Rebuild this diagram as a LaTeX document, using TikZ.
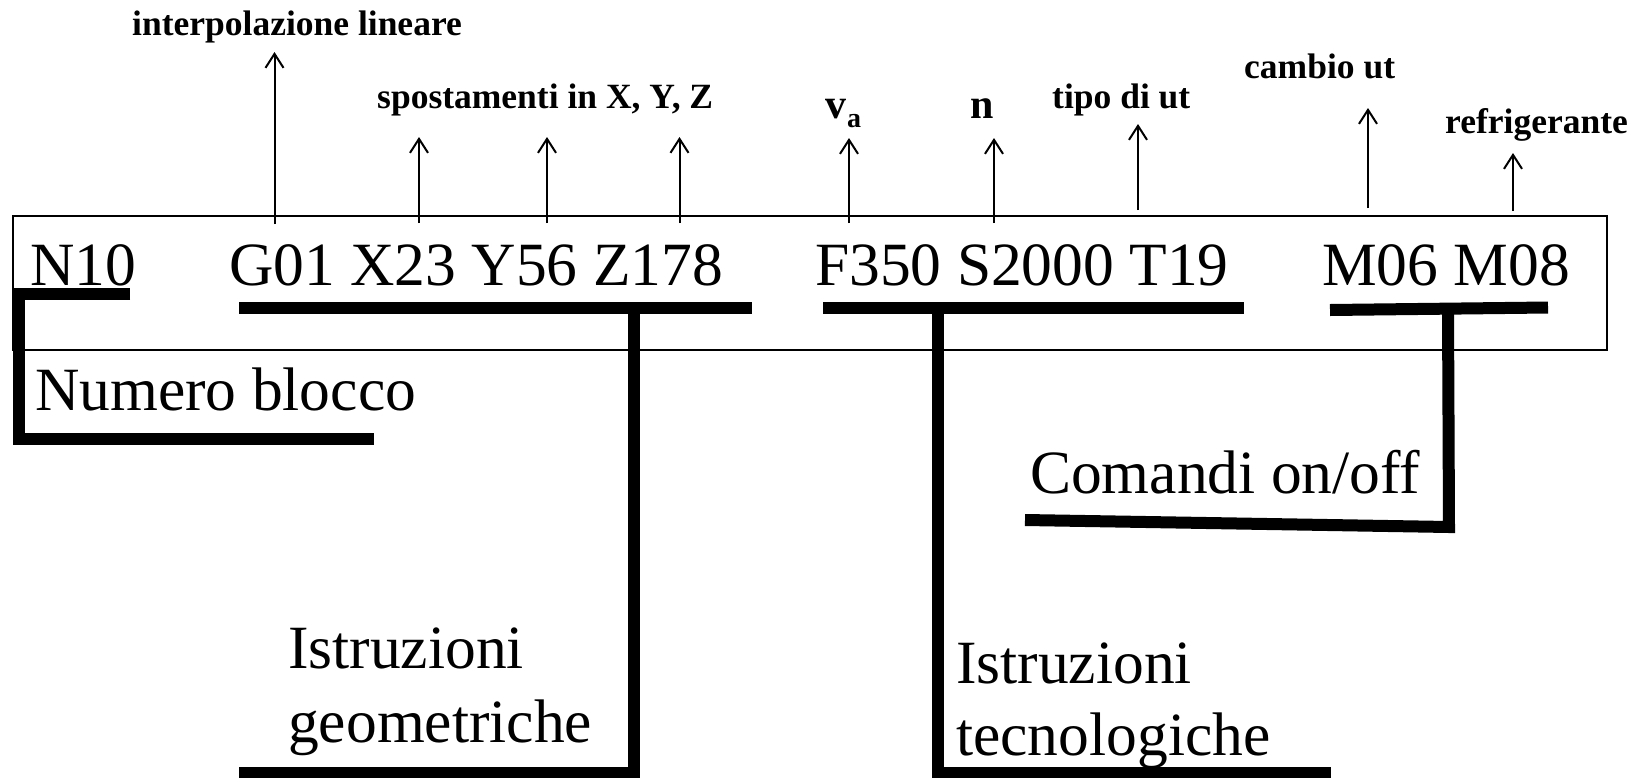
\documentclass[tikz,border=0pt]{standalone}
\usepackage{fontspec}
\setmainfont{Liberation Serif}
\usetikzlibrary{arrows.meta}

\begin{document}
\begin{tikzpicture}[x=1pt,y=-1pt,
  big/.style={inner sep=0pt, anchor=base west, font=\fontsize{61.5}{74}\selectfont},
  tag/.style={inner sep=0pt, anchor=base west, font=\fontsize{35.5}{40}\selectfont\bfseries},
  bigtag/.style={tag, font=\fontsize{42}{46}\selectfont\bfseries},
  frame/.style={line width=2pt},
  up/.style={line width=2pt, -{Straight Barb[length=14pt,width=18pt]}},
  brace/.style={line width=12pt, line join=miter, line cap=butt}]
\useasboundingbox (0,0) rectangle (1642,777);

% the program block
\draw[frame] (13,216) rectangle (1607,350);

\node[big] (n10)   at (30,285)   {N10};
\node[big] (geo)   at (229,285)  {G01 X23 Y56 Z178};
\node[big] (tec)   at (815,285)  {F350 S2000 T19};
\node[big] (onoff) at (1322,285) {M06 M08};

% meaning of each word
\node[tag]    (lInt)    at (132,35)   {interpolazione lineare};
\node[tag]    (lSpo)    at (377,108)  {spostamenti in X, Y, Z};
\node[bigtag] (lVa)     at (825,118)  {v\hspace{1pt}\raisebox{-9pt}{\fontsize{28}{30}\selectfont a}};
\node[bigtag] (lN)      at (970,118)  {n};
\node[tag]    (lTipo)   at (1052,108) {tipo di ut};
\node[tag]    (lCambio) at (1244,78)  {cambio ut};
\node[tag]    (lRefr)   at (1445,133) {refrigerante};

\foreach \nm/\x/\yb/\yt in {G/274.5/224/52, X/419/223/137, Y/547/223/137,
    Z/679.5/223/137, F/849/223/138, S/994/223/138, T/1138/210/124,
    Ma/1368/208/108, Mb/1513/211/153}{
  \coordinate (\nm b) at (\x,\yb);
  \coordinate (\nm t) at (\x,\yt);
  \draw[up] (\nm b) -- (\nm t);
}

% groups of words
\node[big] (lNum)  at (35,410)   {Numero blocco};
\node[big] (lGeo1) at (288,668)  {Istruzioni};
\node[big] (lGeo2) at (288,742)  {geometriche};
\node[big] (lTec1) at (956,683)  {Istruzioni};
\node[big] (lTec2) at (956,755)  {tecnologiche};
\node[big] (lCmd)  at (1030,493) {Comandi on/off};

\draw[brace] (130,294) -- (19,294) -- (19,439) -- (374,439);
\draw[brace] (239,307.5) -- (752,307.5);
\draw[brace] (634,307.5) -- (634,773) -- (239,773);
\draw[brace] (823,308) -- (1244,308);
\draw[brace] (938,308) -- (938,773) -- (1331,773);
\draw[brace] (1330,310) -- (1548,307.5);
\draw[brace] (1448,309) -- (1449,527) -- (1025,520);
\end{tikzpicture}
\end{document}
